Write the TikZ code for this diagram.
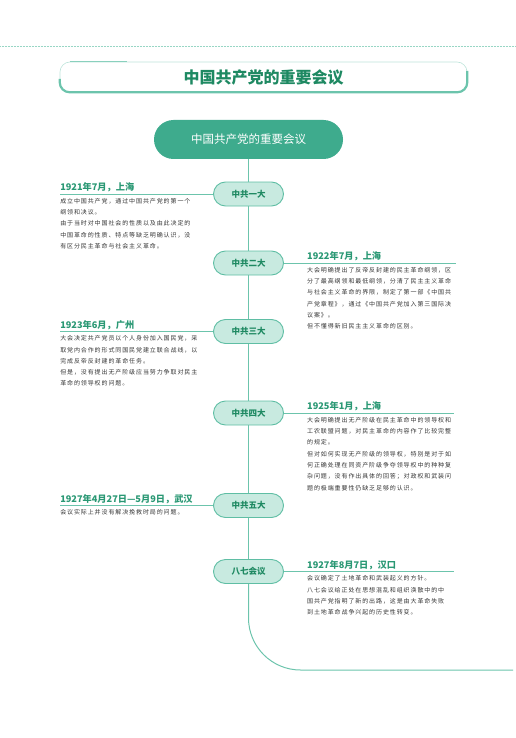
\documentclass[tikz,border=0pt]{standalone}
\usepackage{xcolor}
\usepackage{fontspec}
\setmainfont{Noto Sans CJK SC}
\newfontfamily\bodyfont[LetterSpace=15]{Noto Sans CJK SC}
\usepackage{tikz}
\usetikzlibrary{positioning}

\definecolor{lineteal}{HTML}{6CC4AC}
\definecolor{rootfill}{HTML}{3EAB8D}
\definecolor{meetfill}{HTML}{C8EAE0}
\definecolor{meetdraw}{HTML}{5FBEA4}
\definecolor{titlegreen}{HTML}{1E8962}
\definecolor{dategreen}{HTML}{2A9874}
\definecolor{bodygray}{HTML}{353535}

\begin{document}
\begin{tikzpicture}[
    %% ── Shape styles ──────────────────────────────────────────
    banner/.style={
        rectangle, rounded corners=10pt,
        minimum width=407pt, minimum height=30pt,
        draw=lineteal!45, line width=0.6pt,
        text=titlegreen, font=\fontsize{16pt}{18pt}\selectfont\bfseries
    },
    rootbox/.style={
        rectangle, rounded corners=19.5pt,
        minimum width=189pt, minimum height=39pt,
        fill=rootfill, draw=none,
        text=white, font=\fontsize{11.5pt}{13pt}\selectfont
    },
    meet/.style={
        on grid,
        rectangle, rounded corners=12pt,
        minimum width=70pt, minimum height=24pt,
        fill=meetfill, draw=meetdraw, line width=0.9pt,
        text=titlegreen, font=\fontsize{8.5pt}{10pt}\selectfont\bfseries
    },
    datetext/.style={
        inner sep=0pt, text=dategreen,
        font=\fontsize{9.2pt}{11pt}\selectfont\bfseries
    },
    bodytext/.style={
        inner sep=0pt, align=left, text=bodygray,
        font=\bodyfont\fontsize{6pt}{11.3pt}\selectfont
    },
    link/.style={draw=lineteal, line width=1pt}
]
\useasboundingbox (0,0) rectangle (515pt,-738pt);

%% ── Page head ─────────────────────────────────────────────────
\draw [lineteal!70, line width=0.6pt, dash pattern=on 0.6pt off 0.9pt] (0,-46pt) -- (515pt,-46pt);
\node (head) [banner] at (263.5pt,-77pt) {中国共产党的重要会议};
\draw [lineteal, line width=2.2pt, rounded corners=10pt]
    ([yshift=-2pt]head.west) |- (head.south east) -- ([yshift=6pt]head.east);
\draw [lineteal!80, line width=0.8pt] ([xshift=10pt]head.north west) -- ++(57pt,0);

%% ── Timeline nodes (top to bottom) ────────────────────────────
\node (root) [rootbox] at (248.5pt,-139.5pt) {中国共产党的重要会议};
\node (m1) [meet, below=54.5pt of root] {中共一大};
\node (m2) [meet, below=69pt of m1]     {中共二大};
\node (m3) [meet, below=68.5pt of m2]   {中共三大};
\node (m4) [meet, below=81.5pt of m3]   {中共四大};
\node (m5) [meet, below=92.5pt of m4]   {中共五大};
\node (m6) [meet, below=66pt of m5]     {八七会议};
\coordinate (tail) at (513pt,-670pt);

%% ── Meeting notes ─────────────────────────────────────────────
%% left: 一大
\coordinate [left=153pt of m1.west] (u1);
\node (d1) [datetext, above right=1.5pt and 0pt of u1] {1921年7月，上海};
\node (t1) [bodytext, below right=4pt and 0pt of u1]
    {成立中国共产党，通过中国共产党的第一个\\
     纲领和决议。\\
     由于当时对中国社会的性质以及由此决定的\\
     中国革命的性质、特点等缺乏明确认识，没\\
     有区分民主革命与社会主义革命。};
%% right: 二大
\coordinate [right=172pt of m2.east] (e2);
\node (d2) [datetext, above right=1.5pt and 23pt of m2.east] {1922年7月，上海};
\node (t2) [bodytext, below right=4pt and 23pt of m2.east]
    {大会明确提出了反帝反封建的民主革命纲领，区\\
     分了最高纲领和最低纲领，分清了民主主义革命\\
     与社会主义革命的界限，制定了第一部《中国共\\
     产党章程》，通过《中国共产党加入第三国际决\\
     议案》。\\
     但不懂得新旧民主主义革命的区别。};
%% left: 三大
\coordinate [left=153pt of m3.west] (u3);
\node (d3) [datetext, above right=1.5pt and 0pt of u3] {1923年6月，广州};
\node (t3) [bodytext, below right=4pt and 0pt of u3]
    {大会决定共产党员以个人身份加入国民党，采\\
     取党内合作的形式同国民党建立联合战线，以\\
     完成反帝反封建的革命任务。\\
     但是，没有提出无产阶级应当努力争取对民主\\
     革命的领导权的问题。};
%% right: 四大
\coordinate [right=170pt of m4.east] (e4);
\node (d4) [datetext, above right=1.5pt and 23pt of m4.east] {1925年1月，上海};
\node (t4) [bodytext, below right=4pt and 23pt of m4.east]
    {大会明确提出无产阶级在民主革命中的领导权和\\
     工农联盟问题，对民主革命的内容作了比较完整\\
     的规定。\\
     但对如何实现无产阶级的领导权，特别是对于如\\
     何正确处理在同资产阶级争夺领导权中的种种复\\
     杂问题，没有作出具体的回答；对政权和武装问\\
     题的极端重要性仍缺乏足够的认识。};
%% left: 五大
\coordinate [left=153pt of m5.west] (u5);
\node (d5) [datetext, above right=1.5pt and 0pt of u5] {1927年4月27日—5月9日，武汉};
\node (t5) [bodytext, below right=4pt and 0pt of u5]
    {会议实际上并没有解决挽救时局的问题。};
%% right: 八七会议
\coordinate [right=170pt of m6.east] (e6);
\node (d6) [datetext, above right=1.5pt and 23pt of m6.east] {1927年8月7日，汉口};
\node (t6) [bodytext, below right=4pt and 23pt of m6.east]
    {会议确定了土地革命和武装起义的方针。\\
     八七会议给正处在思想混乱和组织涣散中的中\\
     国共产党指明了新的出路，这是由大革命失败\\
     到土地革命战争兴起的历史性转变。};

%% ── Timeline links ────────────────────────────────────────────
\draw [link] (root) -- (m1);
\draw [link] (m1) -- (m2);
\draw [link] (m2) -- (m3);
\draw [link] (m3) -- (m4);
\draw [link] (m4) -- (m5);
\draw [link] (m5) -- (m6);
\draw [link, rounded corners=52pt] (m6.south) |- (tail);
%% Underlines to the notes
\draw [link] (u1) -- (m1.west);
\draw [link] (m2.east) -- (e2);
\draw [link] (u3) -- (m3.west);
\draw [link] (m4.east) -- (e4);
\draw [link] (u5) -- (m5.west);
\draw [link] (m6.east) -- (e6);

\end{tikzpicture}
\end{document}
